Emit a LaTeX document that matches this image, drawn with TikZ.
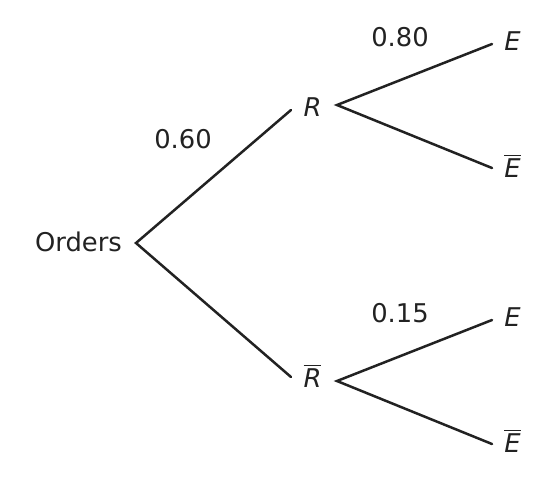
\documentclass[tikz,border=0pt]{standalone}
\usepackage{fontspec}
\setmainfont{DejaVu Sans}
\usetikzlibrary{positioning}
\definecolor{ink}{HTML}{222222}
\newcommand{\obar}[1]{$\overline{\mbox{\itshape #1}}$}
\begin{document}
\begin{tikzpicture}[x=0.5pt,y=-0.5pt]
\useasboundingbox (0,0) rectangle (555,489);
\tikzset{
  lbl/.style={text=ink, font=\fontsize{12.9}{15}\selectfont, inner sep=0pt},
  branch/.style={draw=ink, line width=1.25pt, line cap=round}
}
% labels
\node [lbl] (orders) at (78.5,242) {Orders};
\node [lbl] (R) at (312.5,107) {\itshape R};
\node [lbl] (Rb) at (312.5,376) {\obar{R}};
\node [lbl] (E1) at (512.5,41) {\itshape E};
\node [lbl] (E1b) at (512.5,166) {\obar{E}};
\node [lbl] (E2) at (512.5,317) {\itshape E};
\node [lbl] (E2b) at (512.5,441) {\obar{E}};
% probabilities
\node [lbl] (pR) at (183,139) {0.60};
\node [lbl] (pE) at (400,37) {0.80};
\node [lbl] (pEb) at (400,313) {0.15};

% branch points
\coordinate (o) at (136,243);
\coordinate (rin) at (291,110);
\coordinate (rout) at (337,105);
\coordinate (rbin) at (291,377);
\coordinate (rbout) at (337,381);
\coordinate (e1) at (492,44);
\coordinate (e1b) at (492,168);
\coordinate (e2) at (492,320);
\coordinate (e2b) at (492,444);

\draw [branch] (rin) -- (o) -- (rbin);
\draw [branch] (e1) -- (rout) -- (e1b);
\draw [branch] (e2) -- (rbout) -- (e2b);
\end{tikzpicture}
\end{document}
